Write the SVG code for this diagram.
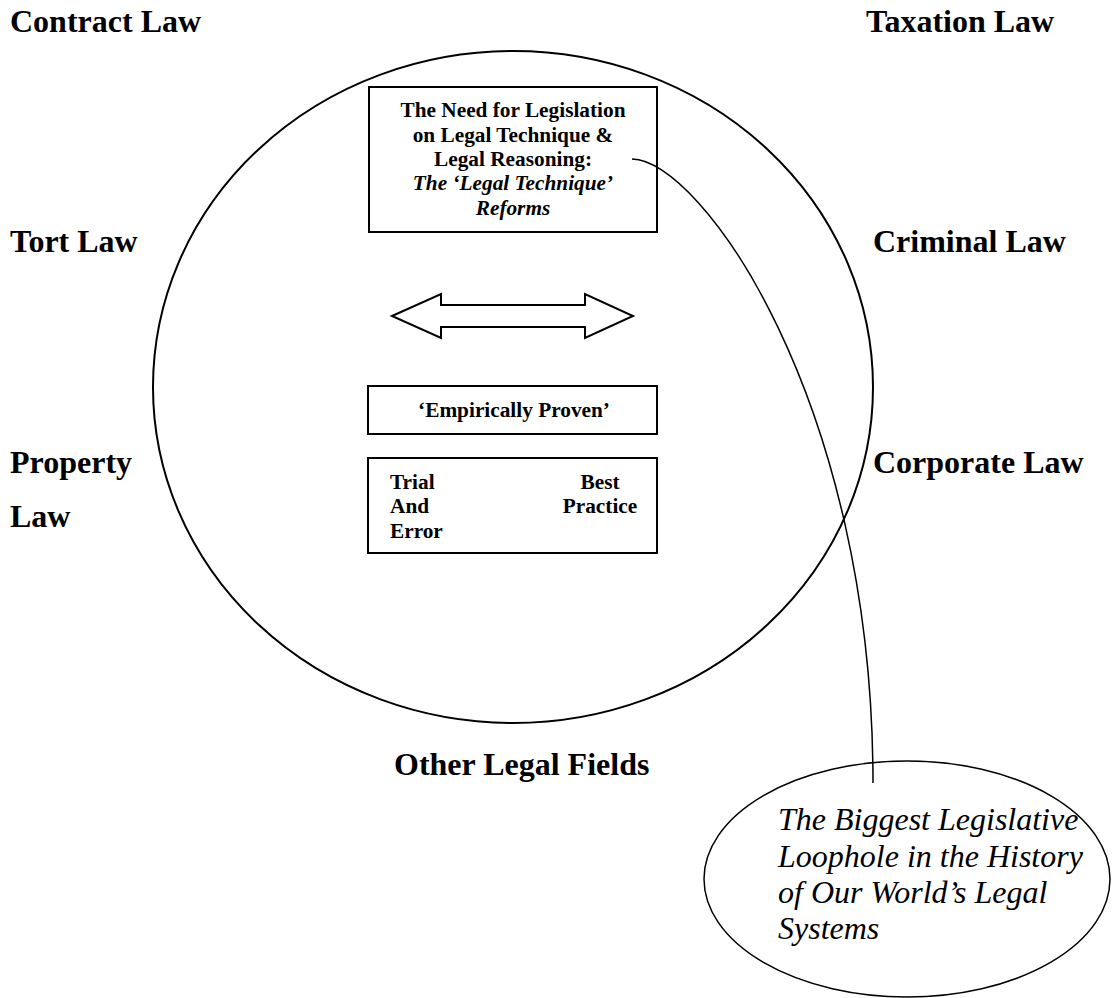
<svg xmlns="http://www.w3.org/2000/svg" width="1112" height="998" viewBox="0 0 1112 998">
<style>
.lbl{font-family:"Liberation Serif","Times New Roman",serif;font-weight:bold;font-size:32px;fill:#000}
.bx{font-family:"Liberation Serif","Times New Roman",serif;font-weight:bold;font-size:21.3px;fill:#000}
.it{font-style:italic}
.ell{font-family:"Liberation Serif","Times New Roman",serif;font-style:italic;font-size:32px;fill:#000}
.shape{fill:none;stroke:#000;stroke-width:2}
.wfill{fill:#fff;stroke:#000;stroke-width:2}
</style>
<rect width="1112" height="998" fill="#fff"/>
<g id="labels">
<text class="lbl" x="10" y="32">Contract Law</text>
<text class="lbl" x="866" y="32">Taxation Law</text>
<text class="lbl" x="10" y="252">Tort Law</text>
<text class="lbl" x="873" y="252">Criminal Law</text>
<text class="lbl" x="10" y="473">Property</text>
<text class="lbl" x="10" y="527">Law</text>
<text class="lbl" x="873" y="473">Corporate Law</text>
<text class="lbl" x="394" y="775">Other Legal Fields</text>
</g>
<g id="circle">
<ellipse class="shape" cx="513" cy="387" rx="360" ry="336"/>
</g>
<g id="need-box">
<rect class="wfill" x="369" y="87" width="288" height="145"/>
<text class="bx" text-anchor="middle" x="513" y="117">The Need for Legislation</text>
<text class="bx" text-anchor="middle" x="513" y="141.5">on Legal Technique &amp;</text>
<text class="bx" text-anchor="middle" x="513" y="166">Legal Reasoning:</text>
<text class="bx it" text-anchor="middle" x="513" y="190">The ‘Legal Technique’</text>
<text class="bx it" text-anchor="middle" x="513" y="214.5">Reforms</text>
</g>
<g id="double-arrow">
<polygon class="shape" stroke-linejoin="miter" points="392,316 441,294 441,305 585,305 585,294 633,316 585,338 585,327 441,327 441,338"/>
</g>
<g id="empirical-box">
<rect class="wfill" x="368" y="386" width="289" height="48"/>
<text class="bx" text-anchor="middle" x="514" y="417">‘Empirically Proven’</text>
</g>
<g id="trial-box">
<rect class="wfill" x="368" y="458" width="289" height="95"/>
<text class="bx" x="390" y="489">Trial</text>
<text class="bx" x="390" y="513">And</text>
<text class="bx" x="390" y="538">Error</text>
<text class="bx" text-anchor="middle" x="600" y="489">Best</text>
<text class="bx" text-anchor="middle" x="600" y="513">Practice</text>
</g>
<g id="connectors">
<path fill="none" stroke="#000" stroke-width="1.5" d="M632,159 C700,159 873,400 873,783"/>
</g>
<g id="loophole">
<ellipse fill="none" stroke="#000" stroke-width="1.5" cx="907" cy="879" rx="203" ry="118"/>
<text class="ell" x="778" y="830">The Biggest Legislative</text>
<text class="ell" x="778" y="867">Loophole in the History</text>
<text class="ell" x="778" y="903">of Our World’s Legal</text>
<text class="ell" x="778" y="939">Systems</text>
</g>
</svg>
